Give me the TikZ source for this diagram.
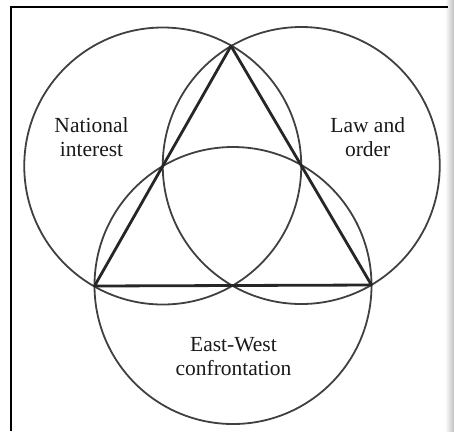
\documentclass[tikz,border=0pt]{standalone}
\usepackage{fontspec}
\setmainfont{Liberation Serif}
\usetikzlibrary{calc}
\begin{document}
\begin{tikzpicture}[x=1bp, y=-1bp,
  ring/.style={draw=black!75, line width=1.8bp},
  side/.style={draw=black!85, line width=2.8bp, line join=round},
  frame/.style={draw=black, line width=2bp},
  lbl/.style={align=center, inner sep=0pt, text=black!90, font=\fontsize{21.5bp}{23.5bp}\selectfont}
]
\useasboundingbox (0,0) rectangle (454,431);
% scan shadow at the right edge
\shade[left color=white, right color=black!25] (445,0) rectangle (454,431);
\draw[frame] (11,431) -- (11,7) -- (448,7);

% corners of the triangle
\coordinate (top) at (231,46);
\coordinate (left) at (94.5,286);
\coordinate (right) at (371.5,285);

% one circle on each side
\draw[ring] ($(top)!0.5!(left)$) circle[radius=138.5bp];
\draw[ring] ($(top)!0.5!(right)$) circle[radius=138.5bp];
\draw[ring] ($(left)!0.5!(right)$) circle[radius=138.5bp];
\draw[side] (top) -- (left) -- (right) -- cycle;

\node[lbl] (nat) at (91.5,137) {National\\interest};
\node[lbl] (law) at (367.7,137) {Law and\\order};
\node[lbl] (ew) at (233.5,356.5) {East-West\\confrontation};
\end{tikzpicture}
\end{document}
